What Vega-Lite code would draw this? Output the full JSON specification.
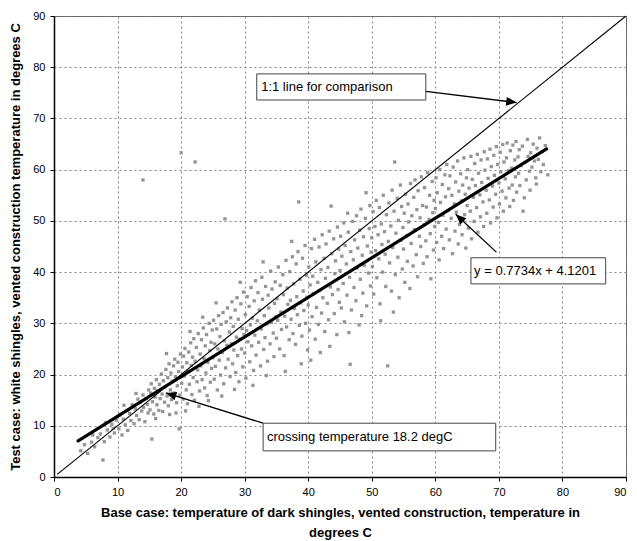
{
  "$schema": "https://vega.github.io/schema/vega-lite/v6.json",
  "width": 572,
  "height": 461,
  "autosize": {"type": "none"},
  "padding": {"left": 54, "top": 16, "right": 11, "bottom": 64},
  "background": "white",
  "config": {
    "font": "Liberation Sans",
    "view": {"stroke": "#666", "strokeWidth": 1},
    "axis": {
      "grid": true, "gridColor": "#777", "gridDash": [2, 3], "gridWidth": 1, "gridOpacity": 0.9,
      "domainColor": "#000", "domainWidth": 1.5, "tickColor": "#000", "tickSize": 4,
      "labelFont": "Liberation Sans", "labelFontSize": 11, "labelColor": "#000", "labelPadding": 5,
      "titleFont": "Liberation Sans", "titleFontSize": 13, "titleFontWeight": "bold", "titleColor": "#000"
    }
  },
  "datasets": {
    "pts": [
{"x":4.2,"y":5.1},{"x":4.8,"y":6.3},{"x":5.3,"y":4.6},{"x":5.9,"y":6.8},{"x":6.4,"y":5.9},{"x":6.9,"y":7.7},{"x":7.3,"y":8.4},{"x":7.7,"y":3.3},{"x":7.9,"y":6.9},{"x":8.4,"y":9.2},{"x":8.8,"y":7.8},{"x":9.1,"y":10.3},{"x":9.5,"y":8.6},{"x":9.8,"y":11.1},{"x":9.3,"y":9.5},{"x":6.1,"y":8.2},{"x":8.1,"y":10.6},
{"x":10.2,"y":9.4},{"x":10.4,"y":12.1},{"x":10.7,"y":8.2},{"x":10.9,"y":11.3},{"x":11.2,"y":10.2},{"x":11.5,"y":13.0},{"x":11.6,"y":9.1},{"x":11.9,"y":12.4},{"x":12.1,"y":11.0},{"x":12.3,"y":14.1},{"x":12.6,"y":10.4},{"x":12.8,"y":13.3},{"x":13.0,"y":12.0},{"x":13.2,"y":15.2},{"x":13.4,"y":11.2},{"x":13.6,"y":14.6},{"x":13.8,"y":12.9},{"x":14.0,"y":16.0},{"x":14.1,"y":13.6},{"x":14.3,"y":10.8},{"x":14.5,"y":15.3},{"x":14.7,"y":14.2},{"x":14.9,"y":17.0},{"x":14.8,"y":12.5},{"x":11.0,"y":14.0},{"x":12.9,"y":16.3},
{"x":15.1,"y":13.1},{"x":15.2,"y":16.4},{"x":15.4,"y":7.4},{"x":15.3,"y":18.2},{"x":15.5,"y":14.7},{"x":15.7,"y":12.3},{"x":15.8,"y":17.3},{"x":15.9,"y":15.6},{"x":16.1,"y":19.0},{"x":16.2,"y":14.1},{"x":16.3,"y":16.8},{"x":16.5,"y":13.0},{"x":16.6,"y":18.1},{"x":16.7,"y":15.3},{"x":16.9,"y":20.1},{"x":17.0,"y":16.2},{"x":17.1,"y":12.8},{"x":17.2,"y":18.8},{"x":17.4,"y":14.6},{"x":17.5,"y":17.6},{"x":17.6,"y":21.0},{"x":17.8,"y":15.8},{"x":17.9,"y":19.4},{"x":18.0,"y":13.9},{"x":18.1,"y":22.1},{"x":18.3,"y":17.0},{"x":18.4,"y":20.3},{"x":18.5,"y":15.1},{"x":18.6,"y":18.7},{"x":18.8,"y":21.7},{"x":18.9,"y":16.4},{"x":19.0,"y":23.0},{"x":19.1,"y":19.6},{"x":19.3,"y":14.5},{"x":19.4,"y":17.8},{"x":19.5,"y":22.4},{"x":19.6,"y":20.6},{"x":19.7,"y":9.4},{"x":19.8,"y":16.0},{"x":19.9,"y":24.0},{"x":16.0,"y":11.4},{"x":18.2,"y":12.2},{"x":19.2,"y":12.5},{"x":17.7,"y":24.1},
{"x":20.1,"y":18.3},{"x":20.2,"y":21.5},{"x":20.3,"y":15.2},{"x":20.4,"y":23.6},{"x":20.5,"y":19.7},{"x":20.6,"y":25.1},{"x":20.8,"y":17.0},{"x":20.9,"y":22.3},{"x":21.0,"y":14.3},{"x":21.1,"y":20.6},{"x":21.2,"y":24.4},{"x":21.3,"y":18.1},{"x":21.5,"y":26.2},{"x":21.6,"y":21.8},{"x":21.7,"y":16.1},{"x":21.8,"y":23.4},{"x":21.9,"y":19.4},{"x":22.0,"y":27.0},{"x":22.1,"y":15.0},{"x":22.2,"y":22.6},{"x":22.4,"y":25.3},{"x":22.5,"y":18.6},{"x":22.6,"y":20.9},{"x":22.7,"y":28.0},{"x":22.9,"y":16.8},{"x":23.0,"y":24.0},{"x":23.1,"y":21.7},{"x":23.2,"y":26.8},{"x":23.3,"y":19.0},{"x":23.5,"y":29.1},{"x":23.6,"y":23.1},{"x":23.7,"y":17.4},{"x":23.8,"y":25.6},{"x":23.9,"y":20.3},{"x":24.0,"y":27.8},{"x":24.1,"y":15.9},{"x":24.2,"y":22.4},{"x":24.4,"y":30.0},{"x":24.5,"y":24.7},{"x":24.6,"y":18.5},{"x":24.7,"y":26.3},{"x":24.8,"y":21.2},{"x":24.9,"y":28.7},{"x":20.7,"y":12.9},{"x":22.8,"y":13.8},{"x":24.3,"y":14.9},{"x":23.4,"y":31.2},{"x":21.4,"y":28.4},
{"x":25.0,"y":23.3},{"x":25.1,"y":30.6},{"x":25.2,"y":19.1},{"x":25.3,"y":26.0},{"x":25.4,"y":21.6},{"x":25.6,"y":28.9},{"x":25.7,"y":17.0},{"x":25.8,"y":25.0},{"x":25.9,"y":31.5},{"x":26.0,"y":22.8},{"x":26.1,"y":27.4},{"x":26.2,"y":19.9},{"x":26.3,"y":29.8},{"x":26.5,"y":24.3},{"x":26.6,"y":32.1},{"x":26.7,"y":18.2},{"x":26.8,"y":26.6},{"x":26.9,"y":50.4},{"x":27.0,"y":21.3},{"x":27.1,"y":30.3},{"x":27.2,"y":25.7},{"x":27.3,"y":33.0},{"x":27.4,"y":23.0},{"x":27.6,"y":28.3},{"x":27.7,"y":19.6},{"x":27.8,"y":31.1},{"x":27.9,"y":26.0},{"x":28.0,"y":34.2},{"x":28.1,"y":22.1},{"x":28.2,"y":29.4},{"x":28.3,"y":24.8},{"x":28.5,"y":32.6},{"x":28.6,"y":20.4},{"x":28.7,"y":27.3},{"x":28.8,"y":35.0},{"x":28.9,"y":23.7},{"x":29.0,"y":30.8},{"x":29.1,"y":18.6},{"x":29.2,"y":26.9},{"x":29.4,"y":33.8},{"x":29.5,"y":25.0},{"x":29.6,"y":29.0},{"x":29.7,"y":21.5},{"x":29.8,"y":36.1},{"x":29.9,"y":27.8},{"x":25.5,"y":34.0},{"x":26.4,"y":15.8},{"x":28.4,"y":17.1},{"x":29.3,"y":38.0},
{"x":30.0,"y":24.2},{"x":30.1,"y":31.7},{"x":30.2,"y":19.3},{"x":30.3,"y":28.6},{"x":30.4,"y":35.2},{"x":30.5,"y":26.4},{"x":30.7,"y":33.3},{"x":30.8,"y":22.5},{"x":30.9,"y":29.7},{"x":31.0,"y":37.0},{"x":31.1,"y":25.6},{"x":31.2,"y":31.0},{"x":31.4,"y":20.8},{"x":31.5,"y":34.4},{"x":31.6,"y":27.7},{"x":31.7,"y":38.3},{"x":31.8,"y":23.8},{"x":32.0,"y":30.5},{"x":32.1,"y":36.0},{"x":32.2,"y":26.3},{"x":32.3,"y":32.6},{"x":32.5,"y":21.7},{"x":32.6,"y":28.9},{"x":32.7,"y":39.0},{"x":32.8,"y":34.7},{"x":33.0,"y":24.9},{"x":33.1,"y":31.5},{"x":33.2,"y":27.2},{"x":33.3,"y":37.2},{"x":33.5,"y":29.9},{"x":33.6,"y":22.6},{"x":33.7,"y":35.5},{"x":33.8,"y":33.0},{"x":34.0,"y":26.0},{"x":34.1,"y":40.2},{"x":34.2,"y":30.2},{"x":34.3,"y":36.7},{"x":34.5,"y":28.1},{"x":34.6,"y":23.5},{"x":34.7,"y":33.9},{"x":34.8,"y":38.1},{"x":34.9,"y":31.3},{"x":31.3,"y":17.9},{"x":33.4,"y":19.8},{"x":32.9,"y":42.0},
{"x":35.0,"y":27.1},{"x":35.1,"y":34.8},{"x":35.2,"y":30.6},{"x":35.3,"y":41.0},{"x":35.5,"y":25.0},{"x":35.6,"y":37.4},{"x":35.7,"y":32.2},{"x":35.8,"y":28.8},{"x":36.0,"y":39.5},{"x":36.1,"y":35.6},{"x":36.2,"y":23.7},{"x":36.3,"y":31.4},{"x":36.5,"y":42.3},{"x":36.6,"y":29.3},{"x":36.7,"y":36.9},{"x":36.8,"y":33.7},{"x":37.0,"y":26.8},{"x":37.1,"y":40.1},{"x":37.2,"y":34.5},{"x":37.3,"y":30.8},{"x":37.5,"y":43.0},{"x":37.6,"y":28.0},{"x":37.7,"y":37.7},{"x":37.8,"y":32.9},{"x":38.0,"y":25.9},{"x":38.1,"y":41.6},{"x":38.2,"y":35.2},{"x":38.3,"y":31.7},{"x":38.4,"y":44.0},{"x":38.5,"y":53.7},{"x":38.6,"y":29.6},{"x":38.7,"y":38.6},{"x":38.8,"y":34.0},{"x":39.0,"y":27.5},{"x":39.1,"y":42.7},{"x":39.2,"y":36.3},{"x":39.3,"y":32.5},{"x":39.5,"y":45.2},{"x":39.6,"y":30.0},{"x":39.7,"y":39.4},{"x":39.8,"y":35.1},{"x":39.9,"y":24.8},{"x":36.4,"y":20.6},{"x":38.9,"y":22.1},{"x":37.4,"y":46.0},
{"x":40.0,"y":33.6},{"x":40.1,"y":41.0},{"x":40.2,"y":28.7},{"x":40.3,"y":37.5},{"x":40.5,"y":44.6},{"x":40.6,"y":31.3},{"x":40.7,"y":39.2},{"x":40.8,"y":35.8},{"x":41.0,"y":46.4},{"x":41.1,"y":26.9},{"x":41.2,"y":42.0},{"x":41.3,"y":33.1},{"x":41.5,"y":38.0},{"x":41.6,"y":29.8},{"x":41.7,"y":44.9},{"x":41.8,"y":36.4},{"x":42.0,"y":40.5},{"x":42.1,"y":32.0},{"x":42.2,"y":47.3},{"x":42.3,"y":35.0},{"x":42.5,"y":42.7},{"x":42.6,"y":28.4},{"x":42.7,"y":38.8},{"x":42.8,"y":45.5},{"x":43.0,"y":33.9},{"x":43.1,"y":40.9},{"x":43.2,"y":30.7},{"x":43.3,"y":48.0},{"x":43.5,"y":37.1},{"x":43.6,"y":52.9},{"x":43.7,"y":43.6},{"x":43.8,"y":35.6},{"x":44.0,"y":46.5},{"x":44.1,"y":31.9},{"x":44.2,"y":39.7},{"x":44.3,"y":42.2},{"x":44.5,"y":27.8},{"x":44.6,"y":48.8},{"x":44.7,"y":36.6},{"x":44.8,"y":44.5},{"x":44.9,"y":34.1},{"x":41.9,"y":24.3},{"x":43.4,"y":25.5},{"x":40.4,"y":22.8},
{"x":45.0,"y":40.3},{"x":45.1,"y":47.0},{"x":45.2,"y":33.0},{"x":45.3,"y":43.1},{"x":45.5,"y":37.8},{"x":45.6,"y":49.6},{"x":45.7,"y":30.3},{"x":45.8,"y":45.2},{"x":46.0,"y":41.6},{"x":46.1,"y":35.5},{"x":46.2,"y":51.5},{"x":46.3,"y":47.8},{"x":46.5,"y":39.0},{"x":46.6,"y":22.0},{"x":46.7,"y":44.0},{"x":46.8,"y":32.6},{"x":47.0,"y":49.9},{"x":47.1,"y":42.4},{"x":47.2,"y":37.0},{"x":47.3,"y":46.3},{"x":47.5,"y":34.4},{"x":47.6,"y":51.0},{"x":47.7,"y":40.8},{"x":47.8,"y":44.7},{"x":48.0,"y":29.7},{"x":48.1,"y":48.2},{"x":48.2,"y":38.6},{"x":48.3,"y":52.3},{"x":48.5,"y":43.3},{"x":48.6,"y":35.9},{"x":48.7,"y":46.9},{"x":48.8,"y":41.3},{"x":49.0,"y":50.5},{"x":49.1,"y":55.5},{"x":49.2,"y":33.4},{"x":49.3,"y":45.1},{"x":49.5,"y":39.8},{"x":49.6,"y":48.5},{"x":49.7,"y":53.0},{"x":49.8,"y":37.3},{"x":49.9,"y":43.9},{"x":46.4,"y":28.2},{"x":48.4,"y":31.5},
{"x":50.0,"y":46.7},{"x":50.1,"y":41.1},{"x":50.2,"y":51.8},{"x":50.3,"y":35.7},{"x":50.5,"y":48.9},{"x":50.6,"y":44.2},{"x":50.7,"y":54.0},{"x":50.8,"y":38.9},{"x":51.0,"y":47.3},{"x":51.1,"y":42.6},{"x":51.2,"y":52.6},{"x":51.3,"y":33.8},{"x":51.5,"y":49.4},{"x":51.6,"y":45.4},{"x":51.7,"y":40.0},{"x":51.8,"y":55.0},{"x":52.0,"y":47.9},{"x":52.1,"y":43.5},{"x":52.2,"y":37.2},{"x":52.3,"y":51.2},{"x":52.5,"y":21.7},{"x":52.6,"y":46.0},{"x":52.7,"y":53.5},{"x":52.8,"y":41.8},{"x":53.0,"y":49.0},{"x":53.1,"y":36.3},{"x":53.2,"y":56.0},{"x":53.3,"y":44.8},{"x":53.5,"y":51.9},{"x":53.6,"y":61.5},{"x":53.7,"y":39.5},{"x":53.8,"y":47.6},{"x":54.0,"y":54.4},{"x":54.1,"y":42.9},{"x":54.2,"y":50.1},{"x":54.3,"y":35.0},{"x":54.5,"y":57.0},{"x":54.6,"y":46.2},{"x":54.7,"y":52.8},{"x":54.8,"y":40.6},{"x":54.9,"y":48.7},{"x":51.4,"y":30.5},{"x":53.4,"y":32.2},
{"x":55.0,"y":44.5},{"x":55.1,"y":51.5},{"x":55.2,"y":38.0},{"x":55.3,"y":55.2},{"x":55.5,"y":47.1},{"x":55.6,"y":42.1},{"x":55.7,"y":53.3},{"x":55.8,"y":49.8},{"x":56.0,"y":36.8},{"x":56.1,"y":57.3},{"x":56.2,"y":45.6},{"x":56.3,"y":51.0},{"x":56.5,"y":41.2},{"x":56.6,"y":54.6},{"x":56.7,"y":48.3},{"x":56.8,"y":58.0},{"x":57.0,"y":43.4},{"x":57.1,"y":52.2},{"x":57.2,"y":39.1},{"x":57.3,"y":55.9},{"x":57.5,"y":47.0},{"x":57.6,"y":50.6},{"x":57.7,"y":45.0},{"x":57.8,"y":58.6},{"x":58.0,"y":53.0},{"x":58.1,"y":41.7},{"x":58.2,"y":49.2},{"x":58.3,"y":56.5},{"x":58.5,"y":46.1},{"x":58.6,"y":52.7},{"x":58.7,"y":43.0},{"x":58.8,"y":59.4},{"x":59.0,"y":50.3},{"x":59.1,"y":55.0},{"x":59.2,"y":47.5},{"x":59.3,"y":38.7},{"x":59.5,"y":57.7},{"x":59.6,"y":51.6},{"x":59.7,"y":44.3},{"x":59.8,"y":54.0},{"x":59.9,"y":48.9},
{"x":60.0,"y":52.4},{"x":60.1,"y":58.4},{"x":60.2,"y":45.8},{"x":60.3,"y":55.5},{"x":60.5,"y":49.7},{"x":60.6,"y":42.4},{"x":60.7,"y":60.0},{"x":60.8,"y":53.6},{"x":61.0,"y":47.0},{"x":61.1,"y":57.1},{"x":61.2,"y":51.1},{"x":61.3,"y":44.6},{"x":61.5,"y":59.0},{"x":61.6,"y":54.7},{"x":61.7,"y":48.4},{"x":61.8,"y":61.0},{"x":62.0,"y":52.0},{"x":62.1,"y":56.3},{"x":62.2,"y":46.3},{"x":62.3,"y":58.8},{"x":62.5,"y":50.5},{"x":62.6,"y":55.0},{"x":62.7,"y":43.6},{"x":62.8,"y":60.5},{"x":63.0,"y":53.3},{"x":63.1,"y":48.0},{"x":63.2,"y":57.6},{"x":63.3,"y":51.7},{"x":63.5,"y":61.7},{"x":63.6,"y":45.5},{"x":63.7,"y":55.8},{"x":63.8,"y":49.3},{"x":64.0,"y":59.2},{"x":64.1,"y":53.9},{"x":64.2,"y":47.3},{"x":64.3,"y":57.0},{"x":64.5,"y":62.3},{"x":64.6,"y":51.2},{"x":64.7,"y":55.2},{"x":64.8,"y":44.7},{"x":64.9,"y":58.4},
{"x":65.0,"y":53.0},{"x":65.1,"y":60.0},{"x":65.2,"y":48.6},{"x":65.3,"y":56.4},{"x":65.5,"y":51.9},{"x":65.6,"y":62.6},{"x":65.7,"y":46.5},{"x":65.8,"y":58.1},{"x":66.0,"y":54.6},{"x":66.1,"y":49.9},{"x":66.2,"y":61.2},{"x":66.3,"y":56.9},{"x":66.5,"y":52.6},{"x":66.6,"y":63.0},{"x":66.7,"y":47.8},{"x":66.8,"y":59.3},{"x":67.0,"y":55.1},{"x":67.1,"y":50.8},{"x":67.2,"y":61.9},{"x":67.3,"y":57.5},{"x":67.5,"y":53.7},{"x":67.6,"y":48.9},{"x":67.7,"y":63.5},{"x":67.8,"y":59.9},{"x":68.0,"y":56.0},{"x":68.1,"y":51.5},{"x":68.2,"y":62.1},{"x":68.3,"y":58.3},{"x":68.5,"y":54.1},{"x":68.6,"y":64.0},{"x":68.7,"y":49.6},{"x":68.8,"y":60.6},{"x":69.0,"y":56.8},{"x":69.1,"y":52.7},{"x":69.2,"y":62.8},{"x":69.3,"y":58.9},{"x":69.5,"y":55.2},{"x":69.6,"y":64.5},{"x":69.7,"y":50.6},{"x":69.8,"y":61.0},
{"x":70.0,"y":57.4},{"x":70.1,"y":53.3},{"x":70.2,"y":63.4},{"x":70.3,"y":59.6},{"x":70.5,"y":55.8},{"x":70.6,"y":64.9},{"x":70.7,"y":51.9},{"x":70.8,"y":61.5},{"x":71.0,"y":58.2},{"x":71.1,"y":54.5},{"x":71.2,"y":62.3},{"x":71.3,"y":65.2},{"x":71.5,"y":59.8},{"x":71.6,"y":56.4},{"x":71.7,"y":52.8},{"x":71.8,"y":63.7},{"x":72.0,"y":60.3},{"x":72.1,"y":57.0},{"x":72.2,"y":64.8},{"x":72.3,"y":54.0},{"x":72.5,"y":61.9},{"x":72.6,"y":58.6},{"x":72.7,"y":65.5},{"x":72.8,"y":55.6},{"x":73.0,"y":62.5},{"x":73.1,"y":59.3},{"x":73.2,"y":63.9},{"x":73.3,"y":56.9},{"x":73.5,"y":60.8},{"x":73.8,"y":51.9},{"x":74.0,"y":54.5},{"x":73.7,"y":64.6},{"x":74.1,"y":61.4},{"x":74.3,"y":58.0},{"x":74.5,"y":65.9},{"x":74.6,"y":62.6},{"x":74.8,"y":59.7},{"x":74.9,"y":56.0},
{"x":75.0,"y":63.3},{"x":75.2,"y":60.5},{"x":75.4,"y":65.0},{"x":75.6,"y":61.7},{"x":75.8,"y":58.4},{"x":76.0,"y":64.2},{"x":76.2,"y":62.0},{"x":76.4,"y":66.2},{"x":76.6,"y":59.6},{"x":76.8,"y":63.5},{"x":77.0,"y":61.0},{"x":77.3,"y":64.7},{"x":77.7,"y":59.0},{"x":75.9,"y":57.2},
{"x":20.0,"y":63.3},{"x":22.2,"y":61.5},{"x":14.0,"y":58.0}
    ],
    "oneToOne": [{"x": 0.5, "y": 0.5}, {"x": 90, "y": 90}],
    "fit": [{"x": 3.8, "y": 7.06}, {"x": 77.5, "y": 64.06}],
    "boxes": [
      {"label": "1:1 line for comparison", "x1": 31.9, "x2": 58.5, "y1": 73.6, "y2": 78.7, "tx": 32.6, "ty": 76.1},
      {"label": "y = 0.7734x + 4.1201", "x1": 65.6, "x2": 86.8, "y1": 37.7, "y2": 42.8, "tx": 66.1, "ty": 40.2},
      {"label": "crossing temperature 18.2 degC", "x1": 32.9, "x2": 69.5, "y1": 5.1, "y2": 10.5, "tx": 33.5, "ty": 7.9}
    ],
    "arrows": [
      {"x": 58.5, "y": 75.3, "xt": 72.8, "yt": 73.1},
      {"x": 69.6, "y": 43.9, "xt": 63.2, "yt": 51.3},
      {"x": 32.9, "y": 10.5, "xt": 17.6, "yt": 16.4}
    ]
  },
  "layer": [
    {
      "data": {"name": "pts"},
      "mark": {"type": "point", "shape": "square", "filled": true, "size": 11, "color": "#8a8a8a", "opacity": 0.9},
      "encoding": {
        "x": {"field": "x", "type": "quantitative",
          "scale": {"domain": [0, 90], "nice": false},
          "axis": {"values": [0,10,20,30,40,50,60,70,80,90], "titlePadding": 9, "titleLineHeight": 20,
            "title": ["Base case: temperature of dark shingles, vented construction, temperature in", "degrees C"]}},
        "y": {"field": "y", "type": "quantitative",
          "scale": {"domain": [0, 90], "nice": false},
          "axis": {"values": [0,10,20,30,40,50,60,70,80,90], "titlePadding": 10,
            "title": "Test case: white shingles, vented construction temperature in degrees C"}}
      }
    },
    {
      "data": {"name": "oneToOne"},
      "mark": {"type": "line", "color": "#000", "strokeWidth": 1.1},
      "encoding": {"x": {"field": "x", "type": "quantitative"}, "y": {"field": "y", "type": "quantitative"}}
    },
    {
      "data": {"name": "fit"},
      "mark": {"type": "line", "color": "#000", "strokeWidth": 3.2, "strokeCap": "round"},
      "encoding": {"x": {"field": "x", "type": "quantitative"}, "y": {"field": "y", "type": "quantitative"}}
    },
    {
      "data": {"name": "arrows"},
      "mark": {"type": "rule", "color": "#000", "strokeWidth": 1.3},
      "encoding": {
        "x": {"field": "x", "type": "quantitative"}, "y": {"field": "y", "type": "quantitative"},
        "x2": {"field": "xt"}, "y2": {"field": "yt"}
      }
    },
    {
      "data": {"name": "arrows"},
      "transform": [{"calculate": "atan2((datum.xt - datum.x) * 6.356, (datum.yt - datum.y) * 5.122) * 180 / PI", "as": "ang"}],
      "mark": {"type": "point", "shape": "M0,0L-0.42,1L0.42,1Z", "filled": true, "color": "#000", "size": 440, "opacity": 1},
      "encoding": {
        "x": {"field": "xt", "type": "quantitative"}, "y": {"field": "yt", "type": "quantitative"},
        "angle": {"field": "ang", "type": "quantitative", "scale": null}
      }
    },
    {
      "data": {"name": "boxes"},
      "mark": {"type": "rect", "fill": "white", "stroke": "#444", "strokeWidth": 1},
      "encoding": {
        "x": {"field": "x1", "type": "quantitative"}, "x2": {"field": "x2"},
        "y": {"field": "y1", "type": "quantitative"}, "y2": {"field": "y2"}
      }
    },
    {
      "data": {"name": "boxes"},
      "mark": {"type": "text", "align": "left", "baseline": "middle", "fontSize": 13, "font": "Liberation Sans", "color": "#000"},
      "encoding": {
        "x": {"field": "tx", "type": "quantitative"}, "y": {"field": "ty", "type": "quantitative"},
        "text": {"field": "label"}
      }
    }
  ]
}
